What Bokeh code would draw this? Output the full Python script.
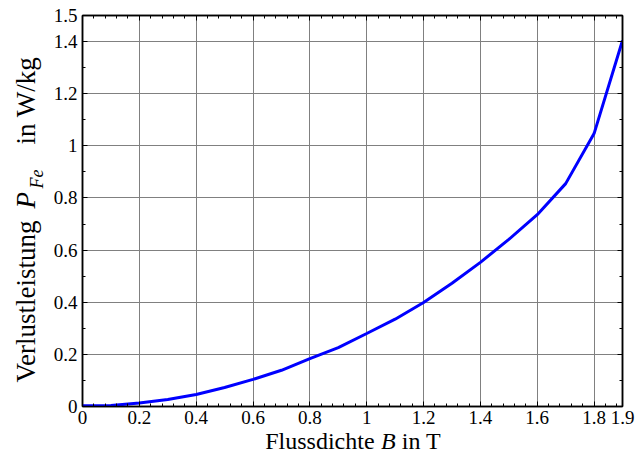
import math
from bokeh.plotting import figure
from bokeh.layouts import row, column
from bokeh.models import (Range1d, LinearAxis, FixedTicker, Label,
                          CustomJSTickFormatter)
from bokeh.embed import file_html
from bokeh.resources import INLINE

# ---- data ----
flux_density = [0.0, 0.1, 0.2, 0.3, 0.4, 0.5, 0.6, 0.7, 0.8, 0.9, 1.0,
                1.1, 1.2, 1.3, 1.4, 1.5, 1.6, 1.7, 1.8, 1.9]
core_loss = [0.003, 0.004, 0.013, 0.027, 0.046, 0.073, 0.104, 0.139, 0.184,
             0.226, 0.280, 0.335, 0.399, 0.473, 0.553, 0.641, 0.736, 0.855,
             1.047, 1.404]

x_ticks = [0, 0.2, 0.4, 0.6, 0.8, 1, 1.2, 1.4, 1.6, 1.8, 1.9]
x_tick_labels = ["0", "0.2", "0.4", "0.6", "0.8", "1", "1.2", "1.4", "1.6", "1.8", "1.9"]
y_ticks = [0, 0.2, 0.4, 0.6, 0.8, 1, 1.2, 1.4, 1.5]
y_tick_labels = ["0", "0.2", "0.4", "0.6", "0.8", "1", "1.2", "1.4", "1.5"]
x_minor = [round(0.04 * i, 2) for i in range(1, 48)]
y_minor = [round(0.1 * i, 1) for i in range(1, 15)]

x_title = ["Flussdichte", "B", "in T"]
y_title = ["Verlustleistung", "P", "Fe", "in W/kg"]

FONT = "Liberation Serif"
W, H = 642, 454
YT_W = 45      # width of the strip holding the y title
XT_H = 26      # height of the strip holding the x title

# ---- main plot ----
p = figure(width=W - YT_W, height=H - XT_H, output_backend="svg",
           toolbar_location=None,
           x_range=Range1d(0, 1.9), y_range=Range1d(0, 1.5),
           min_border_left=37, min_border_right=20, min_border_top=15,
           min_border_bottom=22, x_axis_location=None, y_axis_location=None)
p.background_fill_color = "white"
p.border_fill_color = "white"
p.outline_line_color = "black"
p.outline_line_width = 1.5

xt = FixedTicker(ticks=x_ticks, minor_ticks=x_minor)
yt = FixedTicker(ticks=y_ticks, minor_ticks=y_minor)
fmt = CustomJSTickFormatter(code="return String(Math.round(tick*10)/10);")
blank = CustomJSTickFormatter(code="return '';")


def style(ax, show_labels):
    ax.major_tick_in = 5
    ax.major_tick_out = 0
    ax.minor_tick_in = 3
    ax.minor_tick_out = 0
    ax.axis_line_color = "black"
    ax.axis_line_width = 1.5
    ax.major_tick_line_color = "black"
    ax.minor_tick_line_color = "black"
    if show_labels:
        ax.formatter = fmt
        ax.major_label_text_font = FONT
        ax.major_label_text_font_size = "19px"
        ax.major_label_text_color = "black"
        ax.major_label_standoff = 5
    else:
        ax.formatter = blank
        ax.major_label_text_font_size = "0px"
        ax.major_label_standoff = 0


xb = LinearAxis(ticker=xt)
style(xb, True)
xb.major_label_overrides = dict(zip(x_ticks, x_tick_labels))
xb.major_label_standoff = 4
yl = LinearAxis(ticker=yt)
style(yl, True)
yl.major_label_overrides = dict(zip(y_ticks, y_tick_labels))
xtop = LinearAxis(ticker=xt)
style(xtop, False)
yr = LinearAxis(ticker=yt)
style(yr, False)
p.add_layout(xb, "below")
p.add_layout(yl, "left")
p.add_layout(xtop, "above")
p.add_layout(yr, "right")

p.xgrid.ticker = xt
p.ygrid.ticker = yt
p.xgrid.grid_line_color = "#808080"
p.ygrid.grid_line_color = "#808080"
p.xgrid.grid_line_width = 1
p.ygrid.grid_line_width = 1

p.line(flux_density, core_loss, line_color="#0000ff", line_width=3)


def strip(width, height, xr, yr_):
    f = figure(width=width, height=height, output_backend="svg",
               toolbar_location=None, x_range=xr, y_range=yr_,
               min_border_left=0, min_border_right=0, min_border_top=0,
               min_border_bottom=0, x_axis_location=None, y_axis_location=None)
    f.outline_line_color = None
    f.grid.visible = False
    f.background_fill_color = "white"
    f.border_fill_color = "white"
    return f


def lab(fig, text, x, y, size, italic=False, angle=0.0):
    # Label is drawn centred on its anchor across the text line
    fig.add_layout(Label(x=x, y=y, text=text, text_font=FONT,
                         text_font_size=size, text_color="black",
                         text_font_style="italic" if italic else "normal",
                         angle=angle, text_align="left",
                         text_baseline="middle"))


# x title strip: data coordinates equal page pixels
xs = strip(W - YT_W, XT_H, Range1d(YT_W, W), Range1d(H, H - XT_H))
lab(xs, x_title[0], 247, 440, "24px")
lab(xs, x_title[1], 375, 440, "24px", italic=True)
lab(xs, x_title[2], 398, 440, "24px")

# y title strip (rotated text)
ys = strip(YT_W, H, Range1d(0, YT_W), Range1d(H, 0))
A = math.pi / 2
lab(ys, y_title[0], 25, 382, "27px", angle=A)
lab(ys, y_title[1], 25, 208, "27px", italic=True, angle=A)
lab(ys, y_title[2], 36, 188, "18px", italic=True, angle=A)
lab(ys, y_title[3], 25, 144, "27px", angle=A)

layout = row(ys, column(p, xs))
open("out.html", "w").write(file_html(layout, INLINE))
